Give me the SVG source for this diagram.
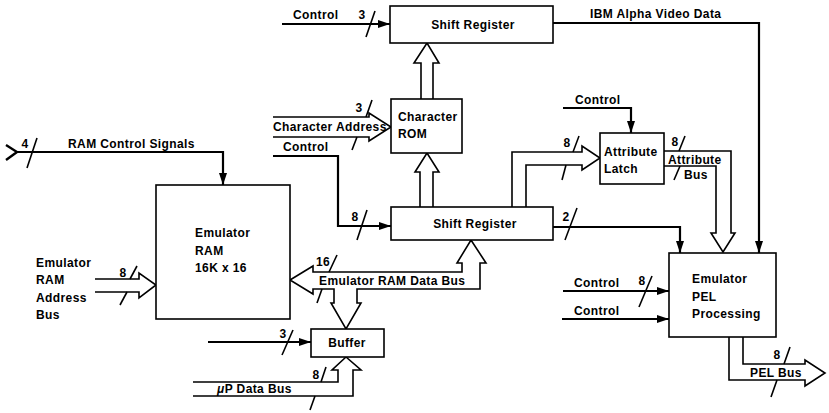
<svg xmlns="http://www.w3.org/2000/svg" width="829" height="413" viewBox="0 0 829 413">
<defs>
<marker id="ah" markerUnits="userSpaceOnUse" markerWidth="12" markerHeight="8" refX="12" refY="4" orient="auto">
<path d="M0,0 L12,4 L0,8 z" fill="#000"/>
</marker>
</defs>
<style>
.box{fill:#fff;stroke:#000;stroke-width:1.6}
.bus{fill:none;stroke:#000;stroke-width:1.6;stroke-linejoin:miter}
.sig{fill:none;stroke:#000;stroke-width:2.2;marker-end:url(#ah)}
.sl{stroke:#000;stroke-width:1.6;fill:none}
text{font-family:"Liberation Sans",Arial,sans-serif;font-weight:bold;font-size:12px;fill:#000;letter-spacing:0.4px}
.m{text-anchor:middle}
</style>
<rect width="829" height="413" fill="#fff"/>

<g id="connectors">
<path class="sig" d="M282,24 H390"/>
<path d="M6,145 L17,152 L6,160" fill="none" stroke="#000" stroke-width="2.4"/>
<path class="sig" d="M17,152 H223 V185"/>
<path class="sig" d="M273,156 H338 V226 H391"/>
<path class="sig" d="M208,342 H311"/>
<path class="sig" d="M553,23 H759 V253"/>
<path class="sig" d="M563,108 H631 V133"/>
<path class="sig" d="M553,227 H680 V253"/>
<path class="sig" d="M563,291 H669"/>
<path class="sig" d="M562,319 H669"/>
<path class="bus" d="M421,99 V63 H414 L427,43 L439,63 H433 V99"/>
<path class="bus" d="M420,207 V172 H415 L427,153 L439,172 H433 V207"/>
<path class="bus" d="M273,117 H369 V113 L391,127 L369,141 V137 H273"/>
<path class="bus" d="M95,279 H139 V273 L156,285 L139,298 V292 H95"/>
<path class="bus" d="M290,280 L313,266 V272 H462 V263 H457 L471,240 L486,263 H480 V289 H357 V303 H361 L346,329 L331,303 H334 V289 H313 V294 Z"/>
<path class="bus" d="M193,382 H338 V370 H332 L346,357 L361,370 H353 V396 H193"/>
<path class="bus" d="M512,207 V152 H582 V146 L600,158 L582,170 V165 H526 V207"/>
<path class="bus" d="M664,151 H731 V233 H735 L723,252 L711,233 H716 V166 H664"/>
<path class="bus" d="M729,337 V380 H805 V386 L825,373 L805,360 V364 H743 V337"/>
<path class="sl" d="M366,37 L375,11"/>
<path class="sl" d="M27,168 L37,138"/>
<path class="sl" d="M357,240 L367,210"/>
<path class="sl" d="M282,355 L293,330"/>
<path class="sl" d="M565,240 L577,208"/>
<path class="sl" d="M639,307 L652,276"/>
<path class="sl" d="M130,279 L137,266"/>
<path class="sl" d="M127,292 L120,305"/>
<path class="sl" d="M366,117 L372,100"/>
<path class="sl" d="M357,137 L352,150"/>
<path class="sl" d="M329,272 L337,255"/>
<path class="sl" d="M322,289 L317,303"/>
<path class="sl" d="M321,382 L326,367"/>
<path class="sl" d="M315,396 L310,410"/>
<path class="sl" d="M573,152 L579,136"/>
<path class="sl" d="M566,165 L562,180"/>
<path class="sl" d="M679,151 L685,136"/>
<path class="sl" d="M680,166 L674,180"/>
<path class="sl" d="M784,364 L790,347"/>
<path class="sl" d="M777,380 L771,397"/>
</g>

<g id="shift-register-top">
<rect class="box" x="390" y="6" width="163" height="37"/>
<text class="m" x="473" y="29">Shift Register</text>
</g>
<g id="character-rom">
<rect class="box" x="391" y="99" width="71" height="54"/>
<text x="398" y="121">Character</text>
<text x="398" y="138">ROM</text>
</g>
<g id="shift-register-mid">
<rect class="box" x="391" y="207" width="162" height="33"/>
<text class="m" x="475" y="228">Shift Register</text>
</g>
<g id="emulator-ram">
<rect class="box" x="156" y="185" width="134" height="134"/>
<text x="195" y="237">Emulator</text>
<text x="195" y="255">RAM</text>
<text x="195" y="272">16K x 16</text>
</g>
<g id="buffer">
<rect class="box" x="311" y="329" width="73" height="28"/>
<text class="m" x="347" y="347">Buffer</text>
</g>
<g id="attribute-latch">
<rect class="box" x="600" y="133" width="64" height="51"/>
<text x="604" y="156">Attribute</text>
<text x="604" y="173">Latch</text>
</g>
<g id="emulator-pel">
<rect class="box" x="669" y="253" width="107" height="84"/>
<text x="692" y="283">Emulator</text>
<text x="692" y="301">PEL</text>
<text x="692" y="318">Processing</text>
</g>

<g id="labels">
<text x="293" y="19">Control</text>
<text class="m" x="362" y="19">3</text>
<text x="590" y="18">IBM Alpha Video Data</text>
<text class="m" x="25" y="148">4</text>
<text x="68" y="148">RAM Control Signals</text>
<text class="m" x="359" y="112">3</text>
<text x="273" y="131">Character Address</text>
<text x="283" y="151">Control</text>
<text class="m" x="355" y="221">8</text>
<text x="575" y="104">Control</text>
<text class="m" x="567" y="147">8</text>
<text class="m" x="675" y="146">8</text>
<text x="668" y="164">Attribute</text>
<text x="684" y="179">Bus</text>
<text class="m" x="566" y="221">2</text>
<text x="36" y="267">Emulator</text>
<text x="36" y="284">RAM</text>
<text x="36" y="302">Address</text>
<text x="36" y="319">Bus</text>
<text class="m" x="123" y="277">8</text>
<text class="m" x="323" y="266">16</text>
<text x="319" y="285">Emulator RAM Data Bus</text>
<text class="m" x="283" y="338">3</text>
<text class="m" x="316" y="379">8</text>
<text x="217" y="393"><tspan font-style="italic">μ</tspan>P Data Bus</text>
<text x="574" y="287">Control</text>
<text class="m" x="642" y="285">8</text>
<text x="574" y="315">Control</text>
<text class="m" x="777" y="359">8</text>
<text x="750" y="377">PEL Bus</text>
</g>
</svg>
